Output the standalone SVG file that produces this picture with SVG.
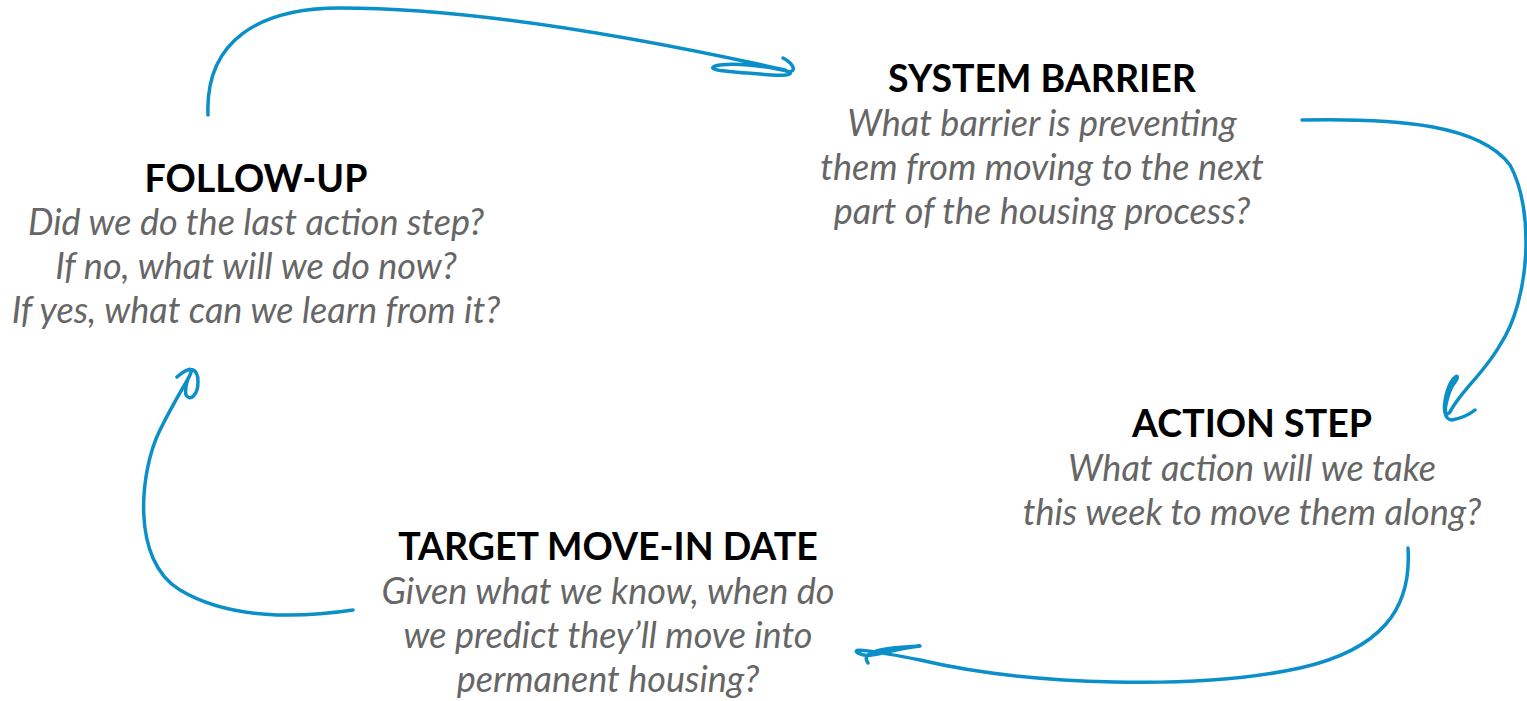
<svg xmlns="http://www.w3.org/2000/svg" width="1527" height="701" viewBox="0 0 1527 701">
<style>
.t{font-family:Lato,"Noto Sans",sans-serif;font-weight:bold;font-size:37.5px;fill:#000;text-anchor:middle}
.b{font-family:Lato,"Noto Sans",sans-serif;font-style:italic;font-size:36px;fill:#666;text-anchor:middle}
.c{fill:none;stroke:#0b8fc9;stroke-width:3.5;stroke-linecap:round;stroke-linejoin:round}
</style>
<rect width="1527" height="701" fill="#fff"/>
<g id="connectors">
<path class="c" d="M208,115 C205,40 260,8 340,8 C480,8 650,40 785,70 C800,76 780,76 760,74 C730,72 705,70 715,66 C730,62 770,66 790,72 C797,70 792,63 783,58"/>
<path class="c" d="M1302,120 C1400,118 1480,125 1510,165 C1535,210 1530,300 1500,345 C1485,372 1460,392 1450,412 C1440,422 1448,390 1455,382 C1462,372 1452,375 1447,392 C1442,410 1445,420 1452,420 C1462,418 1470,414 1475,410"/>
<path class="c" d="M1408,548 C1412,610 1380,650 1300,668 C1200,690 1030,686 920,660 C870,650 850,648 858,653 C870,660 885,650 920,646 C880,648 860,652 868,663"/>
<path class="c" d="M353,610 C300,618 230,620 180,590 C130,560 140,470 160,430 C175,400 185,385 190,375 C195,365 185,370 177,377 C190,365 198,368 198,382 C198,395 190,402 186,395 C184,385 190,375 190,375"/>
</g>
<g id="follow-up">
<text class="t" x="256" y="192">FOLLOW-UP</text>
<text class="b" x="256" y="235">Did we do the last action step?</text>
<text class="b" x="256" y="279">If no, what will we do now?</text>
<text class="b" x="256" y="323">If yes, what can we learn from it?</text>
</g>
<g id="system-barrier">
<text class="t" x="1042" y="92">SYSTEM BARRIER</text>
<text class="b" x="1042" y="136">What barrier is preventing</text>
<text class="b" x="1042" y="180">them from moving to the next</text>
<text class="b" x="1042" y="224">part of the housing process?</text>
</g>
<g id="action-step">
<text class="t" x="1252" y="437">ACTION STEP</text>
<text class="b" x="1252" y="481">What action will we take</text>
<text class="b" x="1252" y="525">this week to move them along?</text>
</g>
<g id="target-move-in-date">
<text class="t" x="608" y="560">TARGET MOVE-IN DATE</text>
<text class="b" x="608" y="604">Given what we know, when do</text>
<text class="b" x="608" y="648">we predict they’ll move into</text>
<text class="b" x="608" y="692">permanent housing?</text>
</g>
</svg>
